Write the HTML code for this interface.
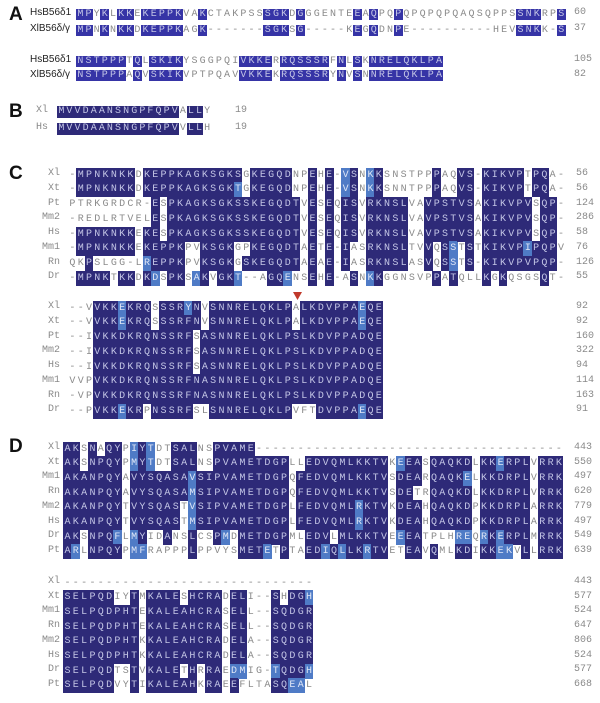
<!DOCTYPE html>
<html><head><meta charset="utf-8">
<style>
html,body{margin:0;padding:0;background:#fff;}
#fig{position:relative;width:600px;height:703px;overflow:hidden;font-family:"Liberation Mono",monospace;}
.c{position:absolute;text-align:center;font-size:10px;color:#8a8a8a;}
.d{background:#2e2a78;color:#c4c6e6;}
.l{background:#4f7bc6;color:#dfe6f6;}
.pa .d{background:#3634a6;}
.pa .l{background:#5a8ad4;}
.lab{position:absolute;font-size:10px;color:#8a8a8a;text-align:right;}
.num{position:absolute;font-size:10px;color:#8a8a8a;}
.pl{position:absolute;font-family:"Liberation Sans",sans-serif;font-weight:bold;font-size:19px;color:#111;}
.alab{position:absolute;font-family:"Liberation Sans",sans-serif;font-size:10px;color:#222;}
</style></head><body>
<div id="fig">
<div class="pl" style="left:9px;top:4px">A</div>
<div class="pl" style="left:9px;top:101px">B</div>
<div class="pl" style="left:9px;top:163px">C</div>
<div class="pl" style="left:9px;top:436px">D</div>
<svg style="position:absolute;left:293px;top:292px" width="9" height="9"><polygon points="0,0 9,0 4.5,8" fill="#c0392b"/></svg>
</div>
<script>
const blockA1 = {names:["HsB56\u03b41","XlB56\u03b4/\u03b3"], seqs:["MPYKLKKEKEPPKVAKCTAKPSSSGKDGGGENTEEAQPQPQPQPQPQAQSQPPSSNKRPS","MPNKNKKDKEPPKAGK-------SGKSG-----KEGQDNPE----------HEVSNKK-S"], nums:["60","37"]};
const blockA2 = {names:["HsB56\u03b41","XlB56\u03b4/\u03b3"], seqs:["NSTPPPTQLSKIKYSGGPQIVKKERRQSSSRFNLSKNRELQKLPA","NSTPPPAQVSKIKVPTPQAVVKKEKRQSSSRYNVSNNRELQKLPA"], nums:["105","82"]};
const blockB = {names:["Xl","Hs"], seqs:["MVVDAANSNGPFQPVALLY","MVVDAANSNGPFQPVVLLH"], nums:["19","19"]};
const blockC1 = {names:["Xl","Xt","Pt","Mm2","Hs","Mm1","Rn","Dr"], seqs:[
"-MPNKNKKDKEPPKAGKSGKSGKEGQDNPEHE-VSNKKSNSTPPPAQVS-KIKVPTPQA-",
"-MPNKNKKDKEPPKAGKSGKTGKEGQDNPEHE-VSNKKSNNTPPPAQVS-KIKVPTPQA-",
"PTRKGRDCR-ESPKAGKSGKSSKEGQDTVESEQISVRKNSLVAVPSTVSAKIKVPVSQP-",
"-REDLRTVELESPKAGKSGKSSKEGQDTVESEQISVRKNSLVAVPSTVSAKIKVPVSQP-",
"-MPNKNKKEKESPKAGKSGKSSKEGQDTVESEQISVRKNSLVAVPSTVSAKIKVPVSQP-",
"-MPNKNKKEKEPPKPVKSGKGPKEGQDTAETE-IASRKNSLTVVQSSTSTKIKVPIPQPV",
"QKPSLGG-LREPPKPVKSGKGSKEGQDTAEAE-IASRKNSLASVQSSTS-KIKVPVPQP-",
"-MPNKTKKDKDSPKSAKVGKT--AGQENSEHE-ASNKKGGNSVPPATQLLKGKQSGSQT-"], nums:["56","56","124","286","58","76","126","55"]};
const blockC2 = {names:["Xl","Xt","Pt","Mm2","Hs","Mm1","Rn","Dr"], seqs:[
"--VVKKEKRQSSSRYNVSNNRELQKLPALKDVPPAEQE",
"--VVKKEKRQSSSRFNVSNNRELQKLPALKDVPPAEQE",
"--IVKKDKRQNSSRFSASNNRELQKLPSLKDVPPADQE",
"--IVKKDKRQNSSRFSASNNRELQKLPSLKDVPPADQE",
"--IVKKDKRQNSSRFSASNNRELQKLPSLKDVPPADQE",
"VVPVKKDKRQNSSRFNASNNRELQKLPSLKDVPPADQE",
"-VPVKKDKRQNSSRFNASNNRELQKLPSLKDVPPADQE",
"--PVKKEKRPNSSRFSLSNNRELQKLPVFTDVPPAEQE"], nums:["92","92","160","322","94","114","163","91"]};
const blockD1 = {names:["Xl","Xt","Mm1","Rn","Mm2","Hs","Dr","Pt"], seqs:[
"AKSNAQYPIYTDTSALNSPVAME-------------------------------------",
"AKSNPQYPMYTDTSALNSPVAMETDGPLLEDVQMLKKTVKEEASQAQKDLKKERPLVRRK",
"AKANPQYAVYSQASAVSIPVAMETDGPQFEDVQMLKKTVSDEARQAQKELKKDRPLVRRK",
"AKANPQYAVYSQASAMSIPVAMETDGPQFEDVQMLKKTVSDETRQAQKDLKKDRPLVRRK",
"AKANPQYTVYSQASTVSIPVAMETDGPLFEDVQMLRKTVKDEAHQAQKDPKKDRPLARRK",
"AKANPQYTVYSQASTMSIPVAMETDGPLFEDVQMLRKTVKDEAHQAQKDPKKDRPLARRK",
"AKSNPQFLMYIDANSLCSPMDMETDGPMLEDVLMLKKTVEEEATPLHREQRKERPLMRRK",
"ARLNPQYPMFRAPPPLPPVYSMETETPTAEDIQLLKRTVETEAVQMLKDIKKEKVLLRRK"], nums:["443","550","497","620","779","497","549","639"]};
const blockD2 = {names:["Xl","Xt","Mm1","Rn","Mm2","Hs","Dr","Pt"], seqs:[
"------------------------------",
"SELPQDIYTMKALESHCRADELI--SHDGH",
"SELPQDPHTEKALEAHCRASELL--SQDGR",
"SELPQDPHTEKALEAHCRASELL--SQDGR",
"SELPQDPHTKKALEAHCRADELA--SQDGR",
"SELPQDPHTKKALEAHCRADELA--SQDGR",
"SELPQDTSTVKALETHRRAEDMIG-TQDGH",
"SELPQDVYTIKALEAHKRAEEFLTASQEAL"], nums:["443","577","524","647","806","524","577","668"]};

const groups=["ILVM","DE","KRH","ST","NQ","FYW","AG","P","C"];
function grp(a){for(const g of groups) if(g.indexOf(a)>=0) return g; return a;}
const fig=document.getElementById('fig');
function draw(b, key, x0, cw, y0, dy, h, labRight, labLeft, numX, sans){
  const n=b.seqs.length, L=b.seqs[0].length;
  const wrap=document.createElement('div');
  
  
  if(sans) wrap.className='pa';
  fig.appendChild(wrap);
  b.names.forEach((nm,i)=>{
    const e=document.createElement('div');
    
    
    if(sans){e.className='alab';e.style.left=labLeft+'px';}
    else{e.className='lab';e.style.left=(labRight-40)+'px';e.style.width='40px';}
    e.style.top=(y0+i*dy-7)+'px';e.textContent=nm;wrap.appendChild(e);
    const m=document.createElement('div');
    
    
    m.className='num';m.style.left=numX+'px';m.style.top=(y0+i*dy-7)+'px';m.textContent=b.nums[i];wrap.appendChild(m);
  });
  for(let c=0;c<L;c++){
    const cnt={};let best='',bc=0;
    for(let r=0;r<n;r++){const a=b.seqs[r][c];if(a==='-')continue;cnt[a]=(cnt[a]||0)+1;if(cnt[a]>bc){bc=cnt[a];best=a;}}
    const ok = bc>=2 && bc>=n/2;
    for(let r=0;r<n;r++){
      const a=b.seqs[r][c];
      const e=document.createElement('div');
      
      
      let cls='c';
      if(a!=='-'&&ok){ if(a===best) cls+=' d'; else if(grp(a)===grp(best)) cls+=' l'; }
      e.className=cls;
      e.style.left=(x0+c*cw)+'px';e.style.width=(cw+0.6)+'px';
      e.style.top=(y0+r*dy-h/2)+'px';e.style.height=h+'px';e.style.lineHeight=h+'px';
      e.textContent=a;wrap.appendChild(e);
    }
  }
}
draw(blockA1,'panel-a-top',76,8.15,14,16,11,0,30,574,true);
draw(blockA2,'panel-a-bottom',76,8.15,61,14.5,11,0,30,574,true);
draw(blockB,'panel-b',57,8.1,112,17,12,48,0,235,false);
draw(blockC1,'panel-c-top',68,8.28,175,14.75,15,60,0,576,false);
draw(blockC2,'panel-c-bottom',68,8.28,308,14.75,15,60,0,576,false);
draw(blockD1,'panel-d-top',63,8.33,449,14.7,15,60,0,574,false);
draw(blockD2,'panel-d-bottom',63,8.33,583,14.7,15,60,0,574,false);
</script>
</body></html>
